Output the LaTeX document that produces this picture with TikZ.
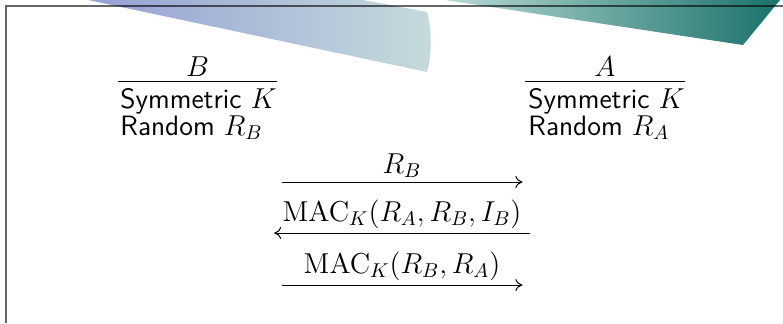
\documentclass[tikz,border=0pt]{standalone}
\usetikzlibrary{arrows.meta,positioning}
\definecolor{lilacBlue}{RGB}{150,160,212}
\definecolor{mistGray}{RGB}{197,219,220}
\definecolor{paleTeal}{RGB}{184,217,213}
\definecolor{deepTeal}{RGB}{26,114,106}

\begin{document}
\begin{tikzpicture}[x=0.5pt,y=-0.5pt,
  every node/.style={font=\fontsize{14}{17}\selectfont},
  party/.style={anchor=south,inner sep=2pt,minimum width=79.5pt,text depth=0pt},
  info/.style={anchor=base west,inner sep=0pt,font=\fontsize{14}{17}\selectfont\sffamily},
  msg/.style={anchor=south,inner xsep=4pt,inner ysep=2pt,minimum width=120pt,
    font=\fontsize{13.6}{16}\selectfont},
  rule/.style={line width=0.5pt},
  arr/.style={-{To[length=3.5pt,width=6pt]},line width=0.5pt},
  frameline/.style={draw=black,draw opacity=0.6,line width=1pt}]
\useasboundingbox (0,0) rectangle (783,323);
% header decoration
\shade[left color=lilacBlue,right color=mistGray]
  (88,0) -- (427,72) .. controls (432,55) and (432,29) .. (427,12) -- (363,0) -- cycle;
\shade[left color=paleTeal,right color=deepTeal]
  (445,0) -- (743,45) -- (780,0) -- cycle;
\draw[frameline] (783,5.5) -- (5.5,5.5) -- (5.5,323);
% the two parties
\node[party] (hB) at (197.5,81) {$B$};
\node[party] (hA) at (605,81) {$A$};
\draw[rule] (hB.south west) -- (hB.south east);
\draw[rule] (hA.south west) -- (hA.south east);
\node[info] (kB) at (120,108) {Symmetric $K$};
\node[info] (rB) at (120,135) {Random $R_B$};
\node[info] (kA) at (528,108) {Symmetric $K$};
\node[info] (rA) at (528,135) {Random $R_A$};
% messages
\node[msg] (m1) at (402,182) {$R_B$};
\node[msg] (m2) at (402,233) {$\mathrm{MAC}_K(R_A,R_B,I_B)$};
\node[msg] (m3) at (402,285) {$\mathrm{MAC}_K(R_B,R_A)$};
\draw[arr] (m1.south west) -- (m1.south east);
\draw[arr] (m2.south east) -- (m2.south west);
\draw[arr] (m3.south west) -- (m3.south east);
\end{tikzpicture}
\end{document}
